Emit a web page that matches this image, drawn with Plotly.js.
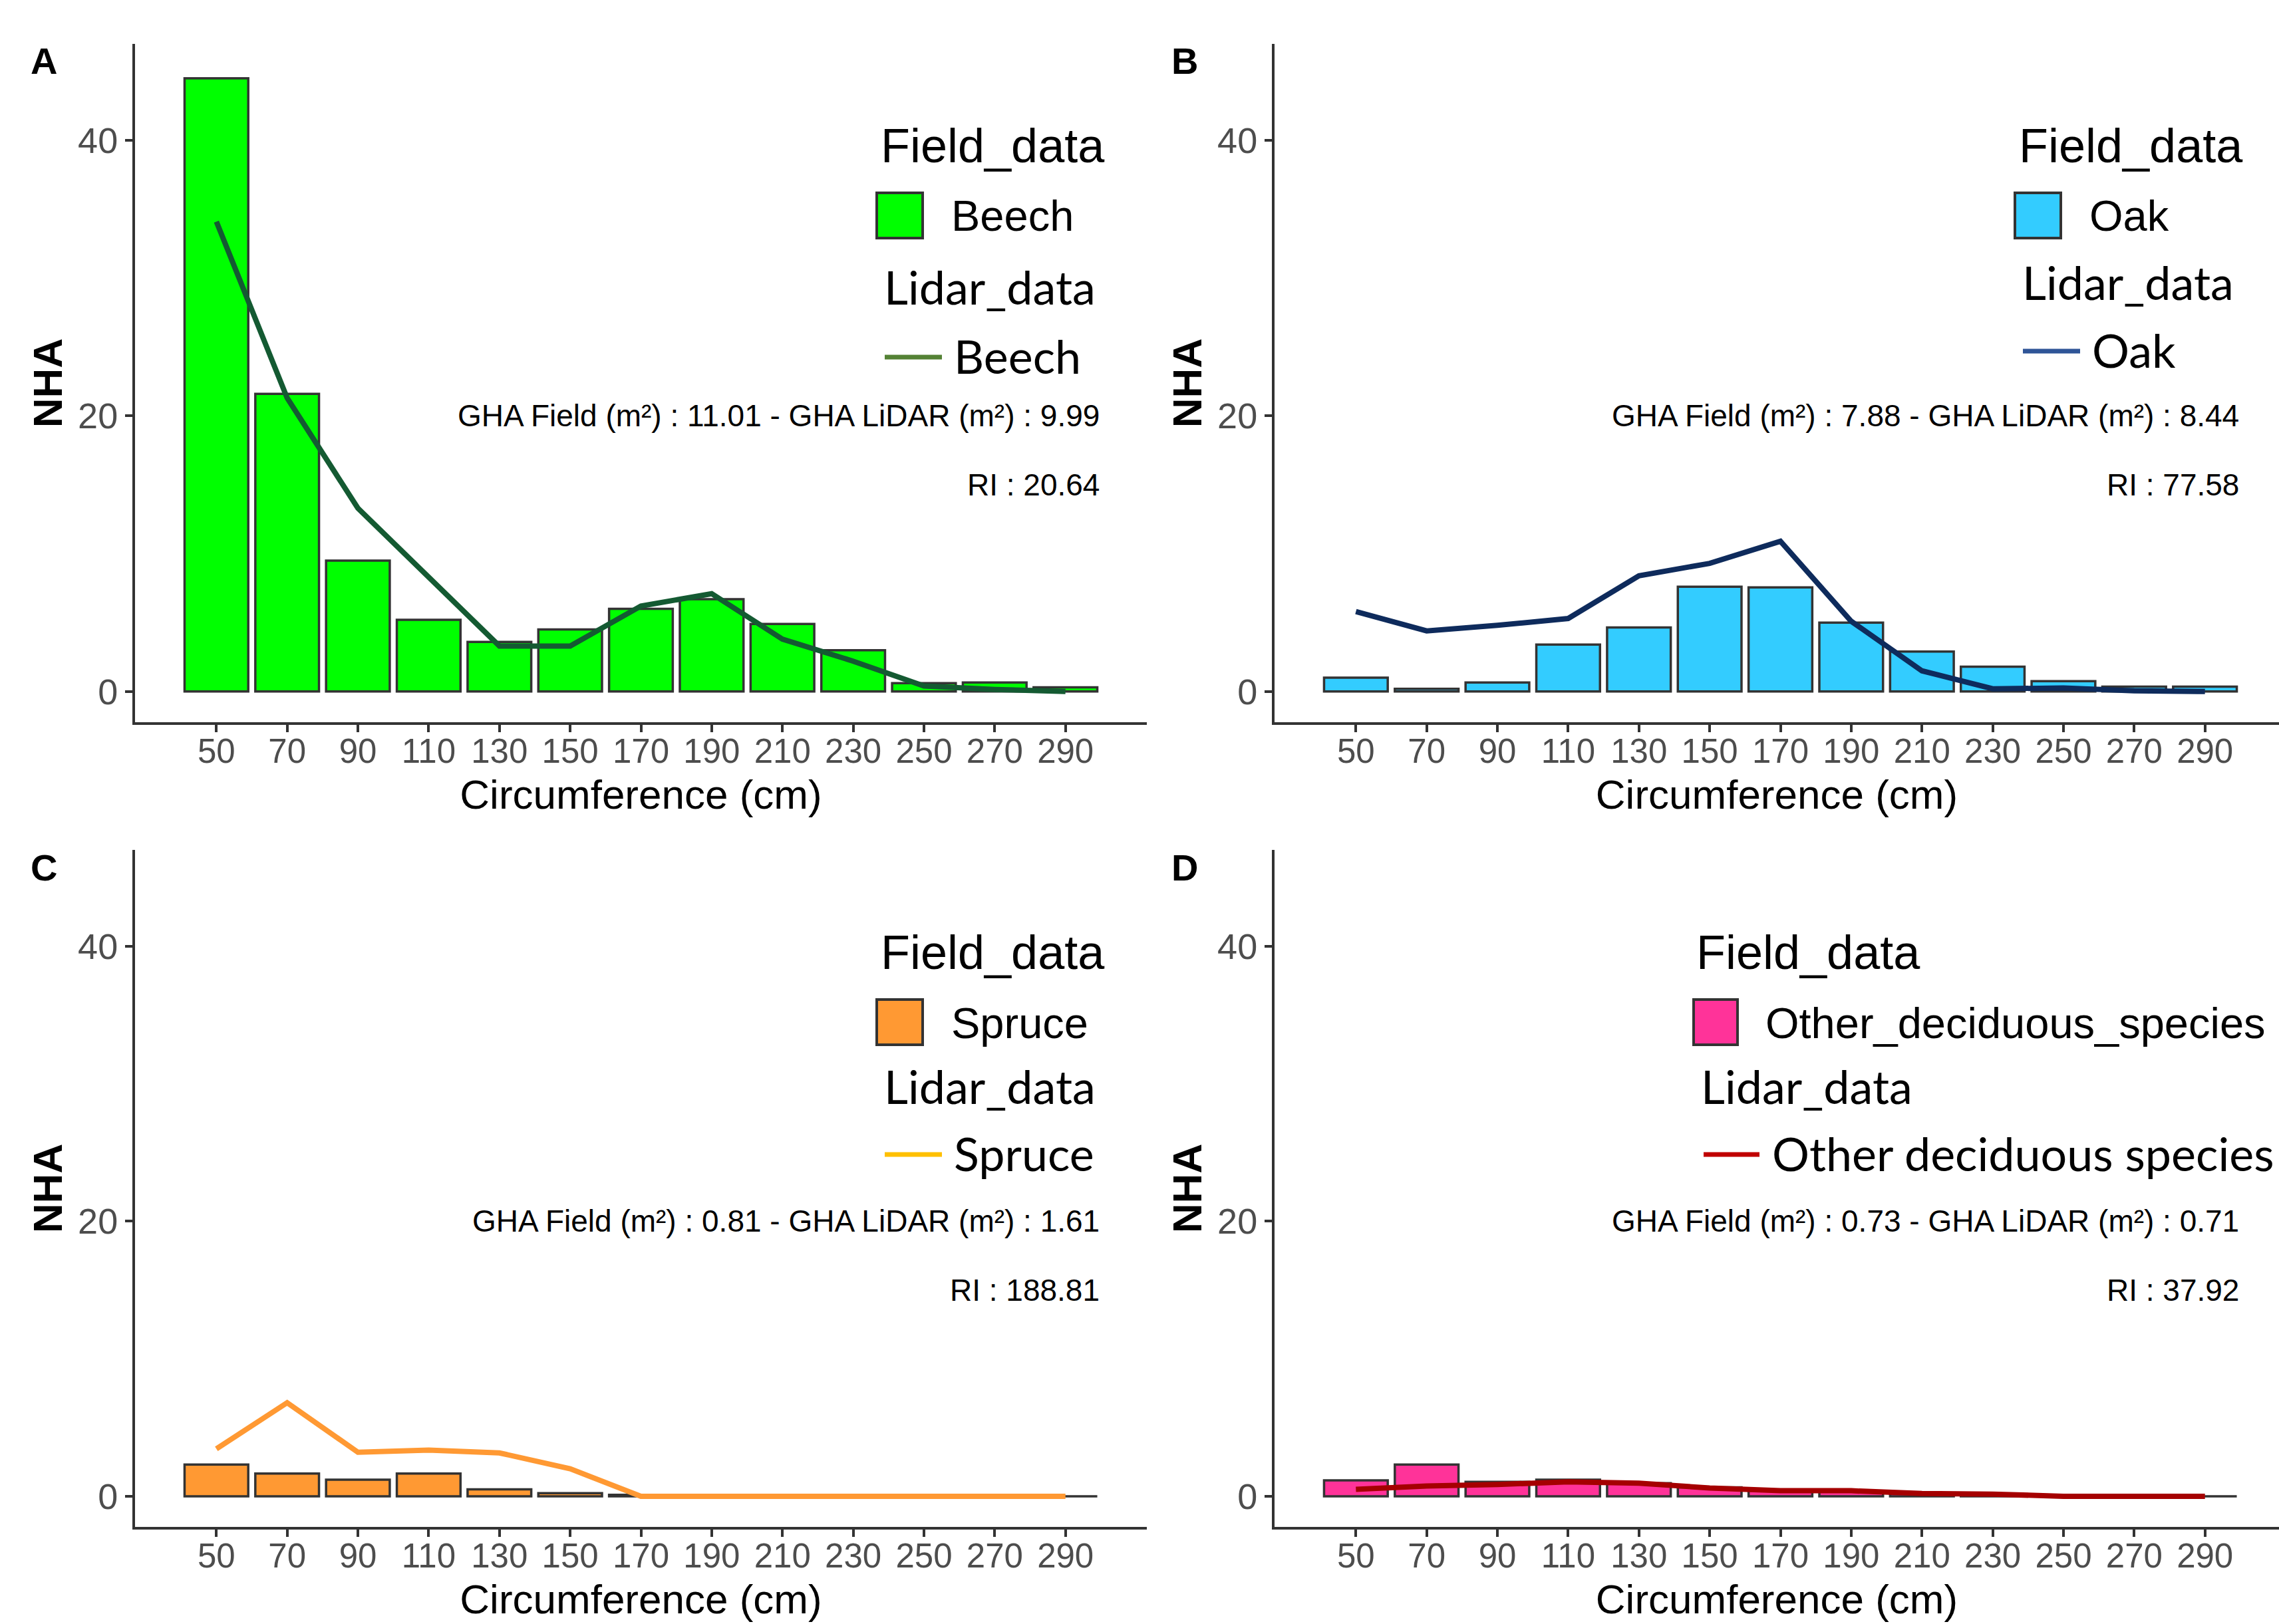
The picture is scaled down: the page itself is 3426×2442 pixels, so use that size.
<!DOCTYPE html>
<html>
<head>
<meta charset="utf-8">
<script src="https://cdn.plot.ly/plotly-3.0.1.min.js"></script>
<style>
  html, body { margin: 0; padding: 0; background: #ffffff; }
  #chart { width: 3426px; height: 2442px; }
</style>
</head>
<body>
<div id="chart"></div>
<script>
// ---------------- DATA ----------------
const circumference = [50, 70, 90, 110, 130, 150, 170, 190, 210, 230, 250, 270, 290];
const xTickLabels = ['50','70','90','110','130','150','170','190','210','230','250','270','290'];
const yTickValues = [0, 20, 40];

const panelLetters = ['A', 'B', 'C', 'D'];
const fieldSpecies = ['Beech', 'Oak', 'Spruce', 'Other_deciduous_species'];
const lidarSpecies = ['Beech', 'Oak', 'Spruce', 'Other deciduous species'];

const beechField = [44.5, 21.6, 9.5, 5.2, 3.6, 4.5, 6.0, 6.7, 4.9, 3.0, 0.6, 0.65, 0.3];
const beechLidar = [34.1, 21.3, 13.3, 8.3, 3.3, 3.3, 6.2, 7.1, 3.8, 2.2, 0.4, 0.15, 0.0];

const oakField = [1.0, 0.2, 0.65, 3.4, 4.65, 7.6, 7.55, 5.0, 2.9, 1.8, 0.75, 0.35, 0.35];
const oakLidar = [5.8, 4.4, 4.8, 5.3, 8.4, 9.3, 10.9, 5.1, 1.5, 0.2, 0.25, 0.05, 0.0];

const spruceField = [2.3, 1.65, 1.2, 1.65, 0.5, 0.22, 0.1, 0, 0, 0, 0, 0, 0];
const spruceLidar = [3.45, 6.8, 3.2, 3.35, 3.15, 2.0, 0, 0, 0, 0, 0, 0, 0];

const otherField = [1.15, 2.3, 1.05, 1.2, 0.95, 0.65, 0.4, 0.35, 0.2, 0.1, 0.05, 0, 0];
const otherLidar = [0.5, 0.75, 0.85, 1.05, 0.95, 0.6, 0.4, 0.4, 0.2, 0.15, 0.0, 0.0, 0.0];

const ghaField = ['11.01', '7.88', '0.81', '0.73'];
const ghaLidar = ['9.99', '8.44', '1.61', '0.71'];
const riValues = ['20.64', '77.58', '188.81', '37.92'];

const fieldValues = [beechField, oakField, spruceField, otherField];
const lidarValues = [beechLidar, oakLidar, spruceLidar, otherLidar];

// ---------------- STYLE ----------------
const fillColors = ['#00FF00', '#33CCFF', '#FF9933', '#FF3399'];
const lineColors = ['#145A32', '#0E2B5C', '#FF9933', '#A50000'];
const legendLineColors = ['#548235', '#2F5597', '#FFC000', '#C00000'];

const W = 3426, H = 2442;
const fx = p => p / W;
const fy = p => 1 - p / H;

const SANS = 'Liberation Sans, Arial, sans-serif';
const LEGEND_ALT = 'Lato, Liberation Sans, sans-serif';

// panel geometry (pixels)
const xDom = [[203, 1724], [1916, 3426], [203, 1724], [1916, 3426]];
const yDom = [[66, 1086], [66, 1086], [1278, 2296], [1278, 2296]];
const pxPerCm = (1724 - 203) / (313 - 27);

// legend layout per panel (pixels)
const legendLayout = [
  {tx: 1322, ty: 219, sx0: 1318, sx1: 1387, sy0: 290, sy1: 358, lx: 1428, ly: 325, ltx: 1327, lty: 431, lnx0: 1330, lnx1: 1416, lny: 537, llx: 1432, lly: 535},
  {tx: 3033, ty: 219, sx0: 3029, sx1: 3098, sy0: 290, sy1: 358, lx: 3139, ly: 325, ltx: 3038, lty: 424, lnx0: 3041, lnx1: 3127, lny: 528, llx: 3143, lly: 526},
  {tx: 1322, ty: 1432, sx0: 1318, sx1: 1387, sy0: 1503, sy1: 1571, lx: 1428, ly: 1538, ltx: 1327, lty: 1633, lnx0: 1330, lnx1: 1416, lny: 1736, llx: 1432, lly: 1734},
  {tx: 2548, ty: 1432, sx0: 2546, sx1: 2612, sy0: 1503, sy1: 1571, lx: 2652, ly: 1538, ltx: 2555, lty: 1633, lnx0: 2561, lnx1: 2645, lny: 1736, llx: 2662, lly: 1734}
];
const letterPos = [[66, 92], [1781, 92], [66, 1304], [1781, 1304]];

// ---------------- BUILD ----------------
const traces = [];
const layout = {
  width: W, height: H,
  margin: {l: 0, r: 0, t: 0, b: 0, pad: 0},
  paper_bgcolor: '#ffffff',
  plot_bgcolor: '#ffffff',
  showlegend: false,
  bargap: 0,
  annotations: [],
  shapes: []
};

for (let i = 0; i < 4; i++) {
  const sfx = i === 0 ? '' : String(i + 1);
  const xa = 'x' + sfx, ya = 'y' + sfx;

  traces.push({
    type: 'bar',
    x: circumference,
    y: fieldValues[i],
    width: circumference.map(() => 18),
    xaxis: xa, yaxis: ya,
    name: fieldSpecies[i],
    marker: {color: fillColors[i], line: {color: '#333333', width: 3.5}},
    hoverinfo: 'x+y'
  });
  traces.push({
    type: 'scatter',
    mode: 'lines',
    x: circumference,
    y: lidarValues[i],
    xaxis: xa, yaxis: ya,
    name: lidarSpecies[i],
    line: {color: lineColors[i], width: 8},
    hoverinfo: 'x+y'
  });

  const xr0 = 27;
  const xr1 = xr0 + (xDom[i][1] - xDom[i][0]) / pxPerCm;

  layout['xaxis' + sfx] = {
    domain: [fx(xDom[i][0]), fx(xDom[i][1])],
    range: [xr0, xr1],
    anchor: ya,
    tickmode: 'array',
    tickvals: circumference,
    ticktext: xTickLabels,
    showline: true, linecolor: '#333333', linewidth: 4,
    ticks: 'outside', ticklen: 11, tickwidth: 4, tickcolor: '#333333',
    ticklabelstandoff: -15,
    showgrid: false, zeroline: false,
    tickfont: {family: SANS, size: 51, color: '#4D4D4D'},
    title: {text: 'Circumference (cm)', font: {family: SANS, size: 62, color: '#000000'}, standoff: 16}
  };
  layout['yaxis' + sfx] = {
    domain: [fy(yDom[i][1]), fy(yDom[i][0])],
    range: [-2.23, 47.0],
    anchor: xa,
    tickmode: 'array',
    tickvals: yTickValues,
    showline: true, linecolor: '#333333', linewidth: 4,
    ticks: 'outside', ticklen: 11, tickwidth: 4, tickcolor: '#333333',
    showgrid: false, zeroline: false,
    tickfont: {family: SANS, size: 54, color: '#4D4D4D'},
    title: {text: 'NHA', font: {family: SANS, size: 62, color: '#000000', weight: 700}, standoff: 4}
  };

  // statistics text (data coordinates)
  layout.annotations.push({
    xref: xa, yref: ya, x: 300, y: 20, xanchor: 'right', yanchor: 'middle',
    text: 'GHA Field (m²) : ' + ghaField[i] + ' - GHA LiDAR (m²) : ' + ghaLidar[i],
    showarrow: false, font: {family: SANS, size: 46, color: '#000000'}
  });
  layout.annotations.push({
    xref: xa, yref: ya, x: 300, y: 15, xanchor: 'right', yanchor: 'middle',
    text: 'RI : ' + riValues[i],
    showarrow: false, font: {family: SANS, size: 46, color: '#000000'}
  });

  // panel letter
  layout.annotations.push({
    xref: 'paper', yref: 'paper', x: fx(letterPos[i][0]), y: fy(letterPos[i][1]),
    xanchor: 'center', yanchor: 'middle', text: '<b>' + panelLetters[i] + '</b>',
    showarrow: false, font: {family: SANS, size: 56, color: '#000000'}
  });

  // legend
  const L = legendLayout[i];
  layout.annotations.push({
    xref: 'paper', yref: 'paper', x: fx(L.tx), y: fy(L.ty), xanchor: 'left', yanchor: 'middle',
    text: 'Field_data', showarrow: false, font: {family: SANS, size: 72, color: '#000000'}
  });
  layout.shapes.push({
    type: 'rect', xref: 'paper', yref: 'paper',
    x0: fx(L.sx0), x1: fx(L.sx1), y0: fy(L.sy1), y1: fy(L.sy0),
    fillcolor: fillColors[i], line: {color: '#333333', width: 4}
  });
  layout.annotations.push({
    xref: 'paper', yref: 'paper', x: fx(L.lx), y: fy(L.ly), xanchor: 'left', yanchor: 'middle',
    text: fieldSpecies[i], showarrow: false, font: {family: SANS, size: 65, color: '#000000'}
  });
  layout.annotations.push({
    xref: 'paper', yref: 'paper', x: fx(L.ltx), y: fy(L.lty), xanchor: 'left', yanchor: 'middle',
    text: 'Lidar_data', showarrow: false, font: {family: LEGEND_ALT, size: 70, color: '#000000'}
  });
  layout.shapes.push({
    type: 'line', xref: 'paper', yref: 'paper',
    x0: fx(L.lnx0), x1: fx(L.lnx1), y0: fy(L.lny), y1: fy(L.lny),
    line: {color: legendLineColors[i], width: 7}
  });
  layout.annotations.push({
    xref: 'paper', yref: 'paper', x: fx(L.llx), y: fy(L.lly), xanchor: 'left', yanchor: 'middle',
    text: lidarSpecies[i], showarrow: false, font: {family: LEGEND_ALT, size: 70, color: '#000000'}
  });
}

Plotly.newPlot('chart', traces, layout, {staticPlot: true, displayModeBar: false});
</script>
</body>
</html>
